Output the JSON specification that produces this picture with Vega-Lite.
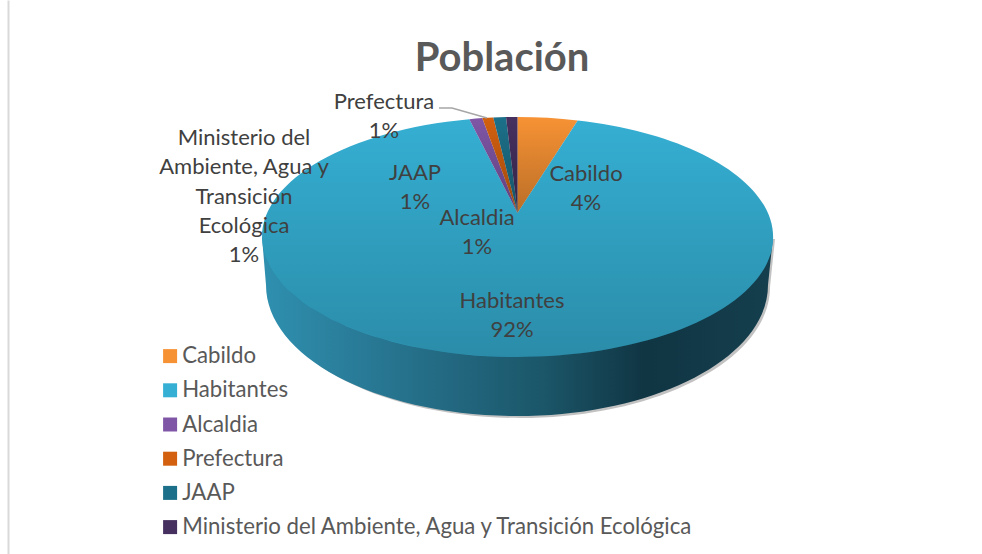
{"$schema":"https://vega.github.io/schema/vega-lite/v6.json","width":974,"height":554,"autosize":"none","padding":{"left":8,"top":0,"right":0,"bottom":0},"background":"white","config":{"view":{"stroke":null}},"title":{"text":"Población","font":"Lato","fontSize":40,"fontWeight":"bold","color":"#595959","anchor":"middle","frame":"group","dx":7,"dy":79,"offset":0},"data":{"values":[{"orden":1,"nombre":"Cabildo","valor":4,"etiqueta":"Cabildo\n4%"},{"orden":2,"nombre":"Habitantes","valor":92,"etiqueta":"Habitantes\n92%"},{"orden":3,"nombre":"Alcaldia","valor":1,"etiqueta":"Alcaldia\n1%"},{"orden":4,"nombre":"Prefectura","valor":1,"etiqueta":"Prefectura\n1%"},{"orden":5,"nombre":"JAAP","valor":1,"etiqueta":"JAAP\n1%"},{"orden":6,"nombre":"Ministerio del Ambiente, Agua y Transición Ecológica","valor":1,"etiqueta":"Ministerio del\nAmbiente, Agua y\nTransición\nEcológica\n1%"}]},"layer":[{"transform":[{"filter":"datum.orden===2"}],"mark":{"type":"point","filled":true,"opacity":0.45,"color":"#777777","size":4,"strokeWidth":0,"shape":"M-231 -38 L-225 10 A250 131 0 0 0 275 10 L280 -38 Z"},"encoding":{}},{"transform":[{"filter":"datum.orden===2"}],"mark":{"type":"point","filled":true,"opacity":1,"size":4,"strokeWidth":0,"color":{"gradient":"linear","x1":0,"y1":0,"x2":1,"y2":0,"stops":[{"offset":0,"color":"#2f90b0"},{"offset":0.3,"color":"#256f89"},{"offset":0.55,"color":"#1b5669"},{"offset":0.75,"color":"#103543"},{"offset":1,"color":"#153f4e"}]},"shape":"M-233 -40 L-229 8 A251 131 0 0 0 273 8 L278 -40 Z"},"encoding":{}},{"mark":{"type":"point","filled":true,"opacity":1,"size":4,"strokeWidth":0},"encoding":{"shape":{"field":"orden","type":"nominal","legend":null,"scale":{"domain":[1,2,3,4,5,6],"range":["M22.5 -64 L22.5 -160 A255.5 120 0 0 1 82.7 -156.6 Z","M22.5 -64 L82.7 -156.6 A255.5 120 0 1 1 -25.7 -157.8 Z","M22.5 -64 L-25.7 -157.8 A255.5 120 0 0 1 -12.7 -158.9 Z","M22.5 -64 L-12.7 -158.9 A255.5 120 0 0 1 -1.7 -159.5 Z","M22.5 -64 L-1.7 -159.5 A255.5 120 0 0 1 11 -159.9 Z","M22.5 -64 L11 -159.9 A255.5 120 0 0 1 22.5 -160 Z"]}},"color":{"field":"nombre","type":"nominal","scale":{"domain":["Cabildo","Habitantes","Alcaldia","Prefectura","JAAP","Ministerio del Ambiente, Agua y Transición Ecológica"],"range":["#f79234","#35afd3","#7f56a6","#d2600f","#1c7089","#46305f"]},"legend":{"title":null,"orient":"none","legendX":151,"legendY":345,"symbolType":"square","symbolSize":196,"symbolStrokeWidth":0,"labelFont":"Lato","labelFontSize":22.2,"labelColor":"#595959","labelLimit":700,"labelOffset":1,"rowPadding":11.2,"padding":0}}}},{"transform":[{"filter":"datum.orden===2"}],"mark":{"type":"point","filled":true,"opacity":1,"size":4,"strokeWidth":0,"color":{"gradient":"linear","x1":0,"y1":0,"x2":0,"y2":1,"stops":[{"offset":0,"color":"rgba(0,0,0,0)"},{"offset":1,"color":"rgba(0,0,0,0.2)"}]},"shape":"M-233 -40 A255.5 120 0 1 1 278 -40 A255.5 120 0 1 1 -233 -40 Z"},"encoding":{}},{"transform":[{"filter":"datum.orden===1"}],"mark":{"type":"point","filled":true,"opacity":1,"size":4,"strokeWidth":0,"color":{"gradient":"linear","x1":0,"y1":0,"x2":0,"y2":1,"stops":[{"offset":0,"color":"rgba(0,0,0,0)"},{"offset":1,"color":"rgba(0,0,0,0.18)"}]},"shape":"M22.5 -64 L-25.7 -157.8 A255.5 120 0 0 1 82.7 -156.6 Z"},"encoding":{}},{"transform":[{"filter":"datum.orden===4"}],"mark":{"type":"point","filled":false,"opacity":1,"size":4,"stroke":"#a6a6a6","strokeWidth":1.5,"shape":"M-56 -169 L-43 -169 L-8 -159"},"encoding":{}},{"mark":{"type":"text","font":"Lato","fontSize":22,"color":"#404040","lineBreak":"\n","lineHeight":29.3,"baseline":"middle","align":"center"},"encoding":{"text":{"field":"etiqueta","type":"nominal"},"x":{"field":"orden","type":"quantitative","axis":null,"scale":{"domain":[0,1,2,3,4,5,6,7],"range":[0,578,504,469,376,407,236,974],"nice":false,"zero":false}},"y":{"field":"orden","type":"quantitative","axis":{"title":null,"labels":false,"ticks":false,"grid":false,"domainColor":"#d9d9d9","domainWidth":2},"scale":{"domain":[0,1,2,3,4,5,6,7],"range":[0,174,301,218,102,173,138,554],"nice":false,"zero":false}}}}]}
